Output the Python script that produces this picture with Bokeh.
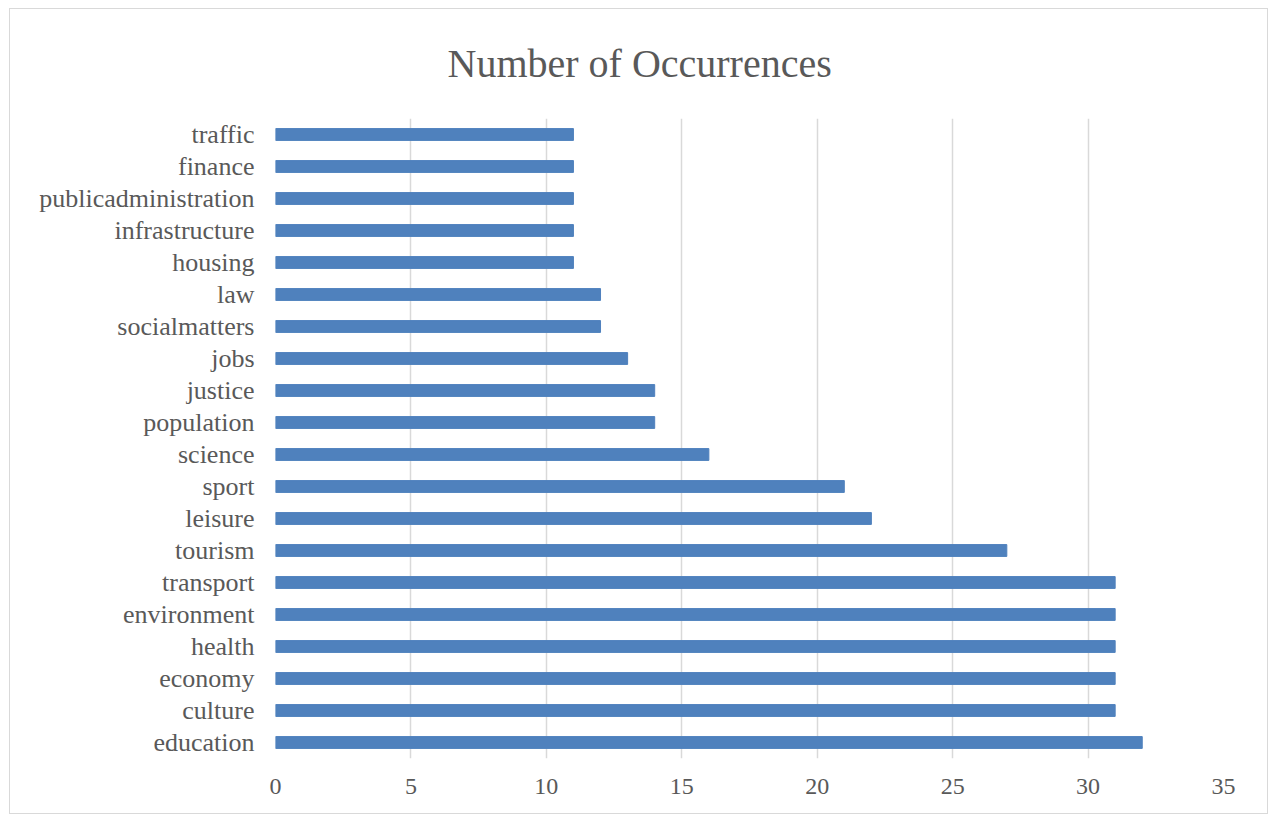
from bokeh.plotting import figure
from bokeh.models import FactorRange, Range1d, FixedTicker
from bokeh.embed import file_html
from bokeh.resources import INLINE

title_text = "Number of Occurrences"
categories = ["traffic", "finance", "publicadministration", "infrastructure", "housing",
              "law", "socialmatters", "jobs", "justice", "population", "science", "sport",
              "leisure", "tourism", "transport", "environment", "health", "economy",
              "culture", "education"]
values = [11, 11, 11, 11, 11, 12, 12, 13, 14, 14, 16, 21, 22, 27, 31, 31, 31, 31, 31, 32]
x_ticks = [0, 5, 10, 15, 20, 25, 30, 35]

# bottom-to-top order for Bokeh
factors = list(reversed(categories))
vals = list(reversed(values))

FONT = "Liberation Serif"
TEXT = "#595959"

p = figure(width=1259, height=806, output_backend="svg", toolbar_location=None,
           y_range=FactorRange(factors=factors), x_range=Range1d(0, 35),
           min_border_left=265, min_border_right=46, min_border_top=109, min_border_bottom=57,
           title=title_text)

p.hbar(y=factors, right=vals, left=0, height=0.37, color="#4F81BD")

p.title.align = "left"
p.title.vertical_align = "top"
p.title.text_font = FONT
p.title.text_font_size = "40px"
p.title.text_font_style = "normal"
p.title.text_color = TEXT
p.title.standoff = 62
p.title.offset = 172

p.xaxis.ticker = FixedTicker(ticks=x_ticks)
p.xaxis.axis_line_color = None
p.xaxis.major_tick_line_color = None
p.xaxis.minor_tick_line_color = None
p.xaxis.major_label_text_font = FONT
p.xaxis.major_label_text_font_size = "24px"
p.xaxis.major_label_text_color = TEXT
p.xaxis.major_label_standoff = 14

p.yaxis.axis_line_color = None
p.yaxis.major_tick_line_color = None
p.yaxis.major_label_text_font = FONT
p.yaxis.major_label_text_font_size = "26px"
p.yaxis.major_label_text_color = TEXT
p.yaxis.major_label_standoff = 15

p.xgrid.grid_line_color = "#D9D9D9"
p.xgrid.grid_line_width = 1.5
p.xgrid.ticker = FixedTicker(ticks=x_ticks)
p.ygrid.grid_line_color = None
p.outline_line_color = None
p.styles = {"border": "1.5px solid #D9D9D9", "box-sizing": "border-box",
            "margin": "8px 0 0 9px"}

open("out.html", "w").write(file_html(p, INLINE))
